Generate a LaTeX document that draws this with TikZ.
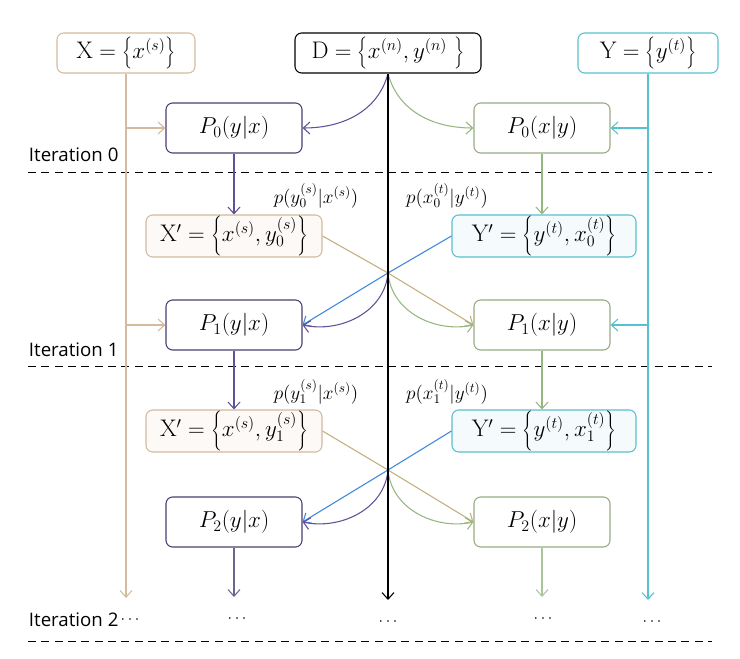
\documentclass[tikz,border=0pt]{standalone}
\usepackage{fontspec}
\newfontfamily\labfont{Open Sans}
\usetikzlibrary{arrows.meta}
\definecolor{tanc}{RGB}{212,186,158}
\definecolor{tealc}{RGB}{88,192,208}
\definecolor{purc}{RGB}{96,80,150}
\definecolor{grnc}{RGB}{150,182,128}
\definecolor{pyx}{RGB}{72,62,112}
\definecolor{pxy}{RGB}{150,170,130}

\begin{document}
\begin{tikzpicture}[x=0.75pt,y=-0.75pt,line width=0.8pt,>={Straight Barb[length=5pt,width=9pt]}]
  \def\xl{126}
  \def\xd{388}
  \def\xr{648}

\useasboundingbox (0,0) rectangle (740,659);
\tikzstyle{box}=[draw,rounded corners=5pt,inner sep=0pt,minimum height=30pt,font=\fontsize{18}{21}\selectfont]
\tikzstyle{pbox}=[box,minimum width=102pt,minimum height=37.5pt]
\tikzstyle{sbox}=[box,minimum height=31.5pt]
\tikzstyle{lab}=[font=\labfont\fontsize{14}{17}\selectfont,anchor=west]
\tikzstyle{cond}=[font=\fontsize{14}{16}\selectfont,inner sep=1pt]
\tikzstyle{dots}=[font=\fontsize{12}{14}\selectfont,inner sep=1pt]
\tikzstyle{sep}=[dashed,dash pattern=on 6pt off 4pt,line width=0.7pt]

% sources
\node[box,tanc,text=black,minimum width=103.5pt] (Xs) at (\xl,53) {$\mathrm{X}=\left\{x^{(s)}\right\}$};
\node[box,minimum width=139.5pt] (D) at (\xd,53) {$\mathrm{D}=\left\{x^{(n)},y^{(n)}\ \right\}$};
\node[box,tealc,text=black,minimum width=105pt] (Ys) at (\xr,53) {$\mathrm{Y}=\left\{y^{(t)}\right\}$};

% iteration 0
\node[pbox,pyx,text=black] (P0yx) at (234,128) {$P_0(y|x)$};
\node[pbox,pxy,text=black] (P0xy) at (542,128) {$P_0(x|y)$};
\draw[->,tanc] (Xs.south |- P0yx) -- (P0yx);
\draw[->,tealc] (Ys.south |- P0xy) -- (P0xy);
\draw[->,purc] (D.south) to[out=-105,in=0] (P0yx.east);
\draw[->,grnc] (D.south) to[out=-75,in=180] (P0xy.west);
\node[lab] (it0) at (24,155) {Iteration 0};
\draw[sep] (28,172) -- (712,172);

\node[sbox,tanc,fill=tanc!8,text=black,minimum width=132pt] (Xp0) at (234,236) {$\mathrm{X}'=\left\{x^{(s)},y_0^{(s)}\right\}$};
\node[sbox,tealc,fill=tealc!6,text=black,minimum width=138pt] (Yp0) at (544,236) {$\mathrm{Y}'=\left\{y^{(t)},x_0^{(t)}\right\}$};
\draw[->,purc] (P0yx) -- (Xp0);
\draw[->,grnc] (P0xy) -- (P0xy |- Yp0.north);
\node[cond] (q0) at (316,196) {$p(y_0^{(s)}|x^{(s)})$};
\node[cond] (r0) at (447,196) {$p(x_0^{(t)}|y^{(t)})$};

% iteration 1
\coordinate (c0) at (\xd,273);
\node[pbox,pyx,text=black] (P1yx) at (234,325) {$P_1(y|x)$};
\node[pbox,pxy,text=black] (P1xy) at (542,325) {$P_1(x|y)$};
\draw[->,tanc] (Xs.south |- P1yx) -- (P1yx);
\draw[->,tealc] (Ys.south |- P1xy) -- (P1xy);
\draw[->,tanc!80!olive] (Xp0.east) -- (c0) -- (P1xy.west);
\draw[->,tealc!70!blue] (Yp0.west) -- (c0) -- (P1yx.east);
\draw[->,purc] (c0) to[out=-95,in=-12] (P1yx.east);
\draw[->,grnc] (c0) to[out=-85,in=192] (P1xy.west);
\node[lab] (it1) at (24,350) {Iteration 1};
\draw[sep] (28,366) -- (712,366);

\node[sbox,tanc,fill=tanc!8,text=black,minimum width=132pt] (Xp1) at (234,431) {$\mathrm{X}'=\left\{x^{(s)},y_1^{(s)}\right\}$};
\node[sbox,tealc,fill=tealc!6,text=black,minimum width=138pt] (Yp1) at (544,431) {$\mathrm{Y}'=\left\{y^{(t)},x_1^{(t)}\right\}$};
\draw[->,purc] (P1yx) -- (Xp1);
\draw[->,grnc] (P1xy) -- (P1xy |- Yp1.north);
\node[cond] (q1) at (316,392) {$p(y_1^{(s)}|x^{(s)})$};
\node[cond] (r1) at (447,392) {$p(x_1^{(t)}|y^{(t)})$};

% iteration 2
\coordinate (c1) at (\xd,470);
\node[pbox,pyx,text=black] (P2yx) at (234,522) {$P_2(y|x)$};
\node[pbox,pxy,text=black] (P2xy) at (542,522) {$P_2(x|y)$};
\draw[->,tanc!80!olive] (Xp1.east) -- (c1) -- (P2xy.west);
\draw[->,tealc!70!blue] (Yp1.west) -- (c1) -- (P2yx.east);
\draw[->,purc] (c1) to[out=-95,in=-12] (P2yx.east);
\draw[->,grnc] (c1) to[out=-85,in=192] (P2xy.west);

% ends
\coordinate (eX) at (\xl,598);
\coordinate (eD) at (\xd,600);
\coordinate (eY) at (\xr,600);
\coordinate (eyx) at (234,597);
\coordinate (exy) at (542,597);
\draw[->,tanc] (Xs) -- (eX);
\draw[->] (D) -- (eD);
\draw[->,tealc] (Ys) -- (eY);
\draw[->,pyx!80] (P2yx) -- (eyx);
\draw[->,grnc!80] (P2xy) -- (exy);

\node[lab] (it2) at (24,620) {Iteration 2};
\node[dots] (dX) at (130,620) {$\cdots$};
\node[dots] (dyx) at (237,619) {$\cdots$};
\node[dots] (dD) at (\xd,622) {$\cdots$};
\node[dots] (dxy) at (543,619) {$\cdots$};
\node[dots] (dY) at (652,622) {$\cdots$};
\draw[sep] (28,641) -- (712,641);
\end{tikzpicture}
\end{document}
